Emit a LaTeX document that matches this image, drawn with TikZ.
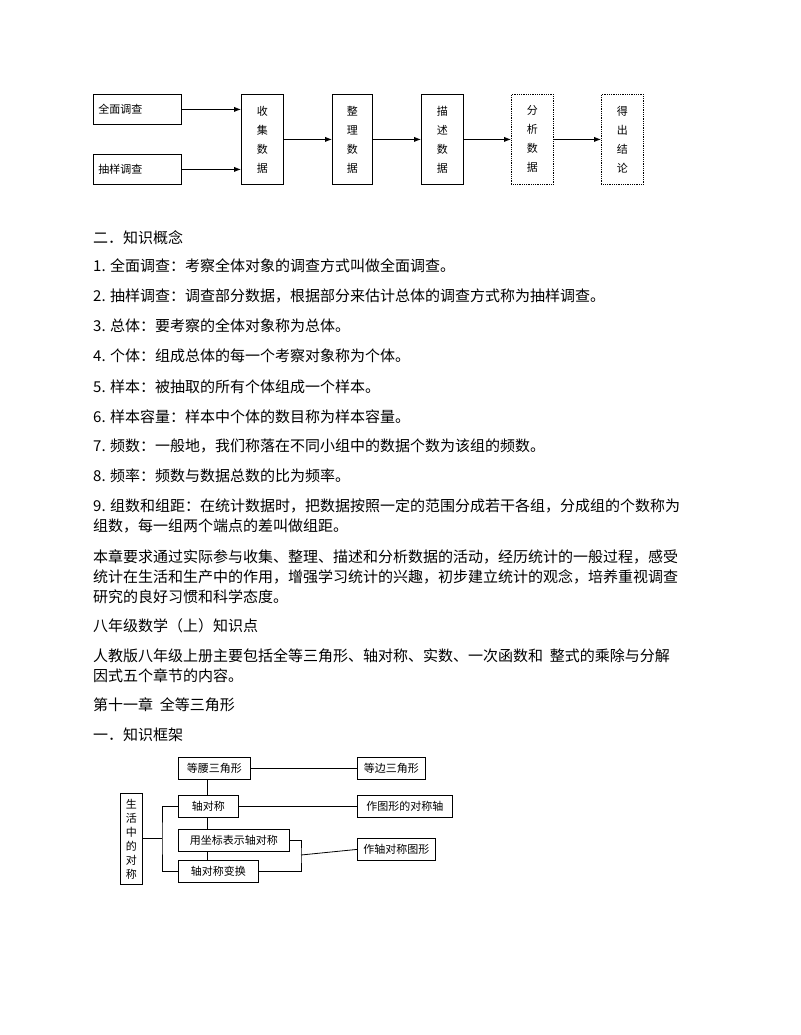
\documentclass[tikz,border=0pt]{standalone}
\usepackage{fontspec}
\setmainfont{Noto Sans CJK SC}
\usetikzlibrary{arrows.meta}
\tikzset{
  box/.style={draw, thick, inner sep=0pt, font=\fontsize{11}{13}\selectfont},
  vbox/.style={box, minimum width=42pt, minimum height=90pt, align=center, font=\fontsize{11}{19}\selectfont},
  dbox/.style={vbox, densely dotted},
  fbox/.style={draw, thick, inner sep=0pt, minimum height=22pt, font=\fontsize{11}{13}\selectfont},
  txt/.style={anchor=west, inner sep=0pt, font=\fontsize{15}{18}\selectfont},
  arr/.style={thick, -{Latex[length=7pt]}}
}
\begin{document}
\begin{tikzpicture}[x=1pt, y=-1pt]
    \useasboundingbox (0,0) rectangle (800,1035);
    % Flow of data work
    \node[box, minimum width=88pt, minimum height=30pt, anchor=north west, text width=78pt] (quan) at (93,94) {全面调查};
    \node[box, minimum width=88pt, minimum height=30pt, anchor=north west, text width=78pt] (chou) at (93,154) {抽样调查};
    \node[vbox, anchor=north west] (shou) at (241,94) {收\\集\\数\\据};
    \node[vbox, anchor=north west, minimum width=40pt] (zheng) at (332,94) {整\\理\\数\\据};
    \node[vbox, anchor=north west] (miao) at (421,94) {描\\述\\数\\据};
    \node[dbox, anchor=north west] (fen) at (511,94) {分\\析\\数\\据};
    \node[dbox, anchor=north west] (de) at (601,94) {得\\出\\结\\论};
    \draw[arr] (quan.east) -- (quan.east -| shou.west);
    \draw[arr] (chou.east) -- (chou.east -| shou.west);
    \draw[arr] (shou) -- (zheng);
    \draw[arr] (zheng) -- (miao);
    \draw[arr] (miao) -- (fen);
    \draw[arr] (fen) -- (de);

    % Text
    \foreach \ypos/\line in {238/{二．知识概念},
        266/{1. 全面调查：考察全体对象的调查方式叫做全面调查。},
        296/{2. 抽样调查：调查部分数据，根据部分来估计总体的调查方式称为抽样调查。},
        326/{3. 总体：要考察的全体对象称为总体。},
        356/{4. 个体：组成总体的每一个考察对象称为个体。},
        387/{5. 样本：被抽取的所有个体组成一个样本。},
        417/{6. 样本容量：样本中个体的数目称为样本容量。},
        446/{7. 频数：一般地，我们称落在不同小组中的数据个数为该组的频数。},
        476/{8. 频率：频数与数据总数的比为频率。},
        506/{9. 组数和组距：在统计数据时，把数据按照一定的范围分成若干各组，分成组的个数称为},
        526/{组数，每一组两个端点的差叫做组距。},
        557/{本章要求通过实际参与收集、整理、描述和分析数据的活动，经历统计的一般过程，感受},
        577/{统计在生活和生产中的作用，增强学习统计的兴趣，初步建立统计的观念，培养重视调查},
        597/{研究的良好习惯和科学态度。},
        626/{八年级数学（上）知识点},
        656/{人教版八年级上册主要包括全等三角形、轴对称、实数、一次函数和\ \ 整式的乘除与分解},
        676/{因式五个章节的内容。},
        705/{第十一章\ \ 全等三角形},
        735/{一．知识框架}} {
        \node[txt] (t\ypos) at (93,\ypos) {\line};
    }

    % Frame of symmetry
    \node[fbox, minimum width=22pt, minimum height=91pt, align=center, anchor=north west, font=\fontsize{11}{14}\selectfont] (life) at (120,793) {生\\活\\中\\的\\对\\称};
    \node[fbox, minimum width=72pt, anchor=north west] (yao) at (178,757) {等腰三角形};
    \node[fbox, minimum width=68pt, anchor=north west] (bian) at (357,757) {等边三角形};
    \node[fbox, minimum width=60pt, anchor=north west] (zhou) at (178,795) {轴对称};
    \node[fbox, minimum width=95pt, anchor=north west] (zuotu) at (357,795) {作图形的对称轴};
    \node[fbox, minimum width=111pt, anchor=north west] (zuobiao) at (178,829) {用坐标表示轴对称};
    \node[fbox, minimum width=80pt, anchor=north west] (bian2) at (178,860) {轴对称变换};
    \node[fbox, minimum width=78pt, anchor=north west] (zuozhou) at (357,838) {作轴对称图形};
    \coordinate (lj) at (162,838);
    \coordinate (rj) at (301,855);
    \draw[thick] (yao) -- (bian);
    \draw[thick] (zhou) -- (zuotu);
    \draw[thick] (yao.south -| 207,0) -- (zhou.north -| 207,0);
    \draw[thick] (zhou.south -| 207,0) -- (zuobiao.north -| 207,0);
    \draw[thick] (zuobiao.south -| 207,0) -- (bian2.north -| 207,0);
    \draw[thick] (life.east |- lj) -- (lj);
    \draw[thick] (zhou.west) -| (lj) |- (bian2.west);
    \draw[thick] (zuobiao.east) -| (rj) |- (bian2.east);
    \draw[thick] (rj) -- (zuozhou.west);
\end{tikzpicture}
\end{document}
